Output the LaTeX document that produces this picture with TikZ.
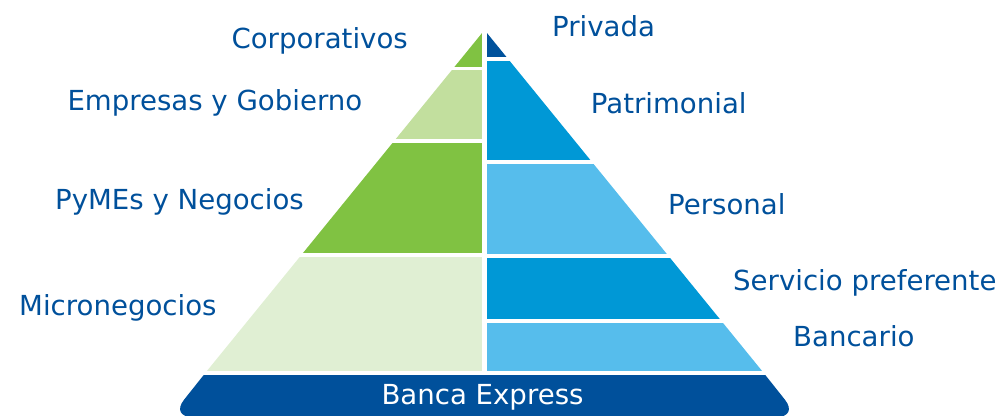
\documentclass[tikz,border=0pt]{standalone}
\usepackage{fontspec}
\setmainfont{DejaVu Sans}
\usetikzlibrary{positioning}

\definecolor{txtblue}{HTML}{00509B}
\definecolor{greendark}{HTML}{80C242}
\definecolor{greenlight}{HTML}{C2DF9E}
\definecolor{greenpale}{HTML}{E0EFD3}
\definecolor{bluedark}{HTML}{00529C}
\definecolor{bluemid}{HTML}{0098D6}
\definecolor{bluelight}{HTML}{56BDEC}

\begin{document}
\begin{tikzpicture}[x=1pt, y=-1pt,
    labelleft/.style={anchor=base east, inner sep=0pt, text=txtblue, font=\fontsize{27.6}{33}\selectfont},
    labelright/.style={anchor=base west, inner sep=0pt, text=txtblue, font=\fontsize{27.6}{33}\selectfont}
    ]
        \useasboundingbox (0,0) rectangle (1004,415);

        %Tiers
        \begin{scope}
            \clip (484.5,30) -- (206.9,371) -- (762.1,371) -- cycle;
            \fill[greendark]  (0,20)  rectangle (482,67);
            \fill[greenlight] (0,70)  rectangle (482,139);
            \fill[greendark]  (0,143) rectangle (482,253);
            \fill[greenpale]  (0,257) rectangle (482,371);
            \fill[bluedark]   (487,20)  rectangle (1004,57);
            \fill[bluemid]    (487,61)  rectangle (1004,160);
            \fill[bluelight]  (487,164) rectangle (1004,254);
            \fill[bluemid]    (487,258) rectangle (1004,319);
            \fill[bluelight]  (487,323) rectangle (1004,371);
        \end{scope}

        %Base
        \fill[txtblue] (203.7,375) [rounded corners=22pt] -- (170.3,417) -- (798.7,417) [sharp corners] -- (765.3,375) -- cycle;
        \node[anchor=base, inner sep=0pt, text=white, font=\fontsize{27.6}{33}\selectfont]
            (express) at (482.5,404) {Banca Express};

        %Labels
        \node[labelleft]  (corp)  at (408,48)  {Corporativos};
        \node[labelleft]  (emp)   at (362.5,110) {Empresas y Gobierno};
        \node[labelleft]  (pymes) at (304,209.3) {PyMEs y Negocios};
        \node[labelleft]  (micro) at (216.7,315) {Micronegocios};
        \node[labelright] (priv)  at (552,36)  {Privada};
        \node[labelright] (patr)  at (590.7,113) {Patrimonial};
        \node[labelright] (pers)  at (668,214.3) {Personal};
        \node[labelright] (serv)  at (733,290) {Servicio preferente};
        \node[labelright] (banc)  at (793,346.7) {Bancario};
    \end{tikzpicture}
\end{document}
